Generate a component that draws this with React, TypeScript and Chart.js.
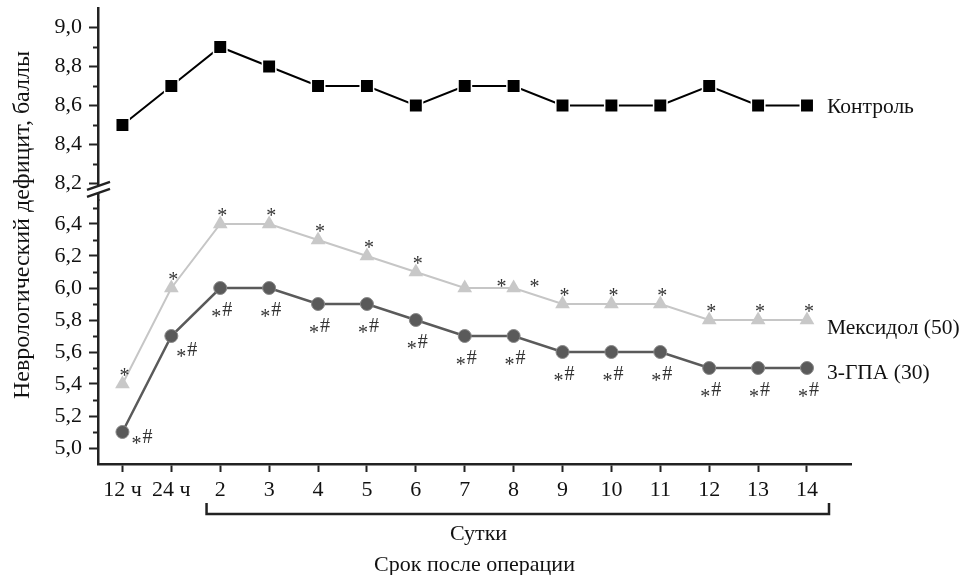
import React, { useEffect, useRef } from 'react';
import { Chart, registerables } from 'chart.js';

Chart.register(...registerables);

// ---------- data ----------
const timeLabels = ['12 ч', '24 ч', '2', '3', '4', '5', '6', '7', '8', '9', '10', '11', '12', '13', '14'];
const controlValues = [8.5, 8.7, 8.9, 8.8, 8.7, 8.7, 8.6, 8.7, 8.7, 8.6, 8.6, 8.6, 8.7, 8.6, 8.6];
const mexidolValues = [5.4, 6.0, 6.4, 6.4, 6.3, 6.2, 6.1, 6.0, 6.0, 5.9, 5.9, 5.9, 5.8, 5.8, 5.8];
const gpaValues = [5.1, 5.7, 6.0, 6.0, 5.9, 5.9, 5.8, 5.7, 5.7, 5.6, 5.6, 5.6, 5.5, 5.5, 5.5];
const mexidolMarks = ['*', '*', '*', '*', '*', '*', '*', '', '*|*', '*', '*', '*', '*', '*', '*'];
const gpaMarks = ['*#', '*#', '*#', '*#', '*#', '*#', '*#', '*#', '*#', '*#', '*#', '*#', '*#', '*#', '*#'];
const upperTicks = [8.2, 8.3, 8.4, 8.5, 8.6, 8.7, 8.8, 8.9, 9.0];
const lowerTicks = [5.0, 5.1, 5.2, 5.3, 5.4, 5.5, 5.6, 5.7, 5.8, 5.9, 6.0, 6.1, 6.2, 6.3, 6.4, 6.5];
const seriesNames = ['Контроль', 'Мексидол (50)', '3-ГПА (30)'];
const yTitle = 'Неврологический дефицит, баллы';
const xTitle = 'Срок после операции';
const daysLabel = 'Сутки';

// ---------- styling ----------
const FONT = '"Liberation Serif", "Times New Roman", serif';
const AXIS = '#222';
const isMajor = (v: number) => Math.round(v * 10) % 2 === 0;
const fmt = (v: number) => v.toFixed(1).replace('.', ',');

const overlay = {
  id: 'overlay',
  afterDraw(chart: any) {
    const ctx: CanvasRenderingContext2D = chart.ctx;
    const ca = chart.chartArea;
    const xs = chart.scales.x;
    const yT = chart.scales.yTop;
    const yB = chart.scales.yBottom;
    ctx.save();

    // minor y ticks
    ctx.strokeStyle = AXIS;
    ctx.lineWidth = 2;
    const minor = (s: any, ticks: number[]) => {
      ticks.forEach((v) => {
        if (!isMajor(v)) {
          const py = Math.round(s.getPixelForValue(v)) + 0.5;
          ctx.beginPath();
          ctx.moveTo(ca.left - 5, py);
          ctx.lineTo(ca.left, py);
          ctx.stroke();
        }
      });
    };
    minor(yT, upperTicks);
    minor(yB, lowerTicks);

    // axis break
    const ax = ca.left;
    const by = yT.getPixelForValue(upperTicks[0]) + 6;
    ctx.fillStyle = '#fff';
    ctx.beginPath();
    ctx.moveTo(ax - 11, by + 0.5);
    ctx.lineTo(ax + 12, by - 7.5);
    ctx.lineTo(ax + 12, by - 0.5);
    ctx.lineTo(ax - 11, by + 7.5);
    ctx.closePath();
    ctx.fill();
    ctx.lineWidth = 2.5;
    ctx.strokeStyle = AXIS;
    ctx.beginPath();
    ctx.moveTo(ax - 11, by + 0.5);
    ctx.lineTo(ax + 12, by - 7.5);
    ctx.moveTo(ax - 11, by + 7.5);
    ctx.lineTo(ax + 12, by - 0.5);
    ctx.stroke();

    // annotations
    ctx.fillStyle = '#333';
    ctx.textAlign = 'center';
    ctx.textBaseline = 'alphabetic';
    const fs = 20;
    ctx.font = `${fs}px ${FONT}`;
    const star = (cx: number, cy: number) => ctx.fillText('*', cx, cy + 0.5 * fs);
    const hash = (cx: number, cy: number) => ctx.fillText('#', cx, cy + 0.34 * fs);

    const mexMeta = chart.getDatasetMeta(1);
    mexidolMarks.forEach((m, i) => {
      const p = mexMeta.data[i];
      if (!p || !m) return;
      if (m === '*|*') {
        star(p.x - 12, p.y - 5);
        star(p.x + 21, p.y - 5);
      } else {
        star(p.x + 2, p.y - 12);
      }
    });
    const gpaMeta = chart.getDatasetMeta(2);
    gpaMarks.forEach((m, i) => {
      const p = gpaMeta.data[i];
      if (!p || !m) return;
      let dx = -4, dy = 25;
      if (i === 0) { dx = 14; dy = 8; }
      else if (i === 1) { dx = 10; dy = 17; }
      star(p.x + dx, p.y + dy);
      hash(p.x + dx + 11, p.y + dy - 4);
    });

    // series labels at right
    ctx.fillStyle = '#111';
    ctx.textAlign = 'left';
    ctx.textBaseline = 'middle';
    ctx.font = `21.5px ${FONT}`;
    const labelDy = [2, 8, 5];
    [0, 1, 2].forEach((d) => {
      const meta = chart.getDatasetMeta(d);
      const last = meta.data[meta.data.length - 1];
      ctx.fillText(seriesNames[d], last.x + 20, last.y + labelDy[d]);
    });

    // bracket for days
    const bx1 = xs.getPixelForValue(1.72);
    const bx2 = xs.getPixelForValue(14.45);
    const byB = ca.bottom + 50;
    ctx.strokeStyle = AXIS;
    ctx.lineWidth = 2.5;
    ctx.beginPath();
    ctx.moveTo(bx1, byB - 11);
    ctx.lineTo(bx1, byB);
    ctx.lineTo(bx2, byB);
    ctx.lineTo(bx2, byB - 11);
    ctx.stroke();

    // x titles
    ctx.fillStyle = '#111';
    ctx.textAlign = 'center';
    ctx.textBaseline = 'middle';
    ctx.font = `22px ${FONT}`;
    const cx = (ca.left + ca.right) / 2;
    ctx.fillText(daysLabel, cx + 4, ca.bottom + 70);
    ctx.fillText(xTitle, cx, ca.bottom + 101);

    // y title
    ctx.save();
    ctx.translate(23, 225);
    ctx.rotate(-Math.PI / 2);
    ctx.font = `24px ${FONT}`;
    ctx.fillText(yTitle, 0, 0);
    ctx.restore();

    ctx.restore();
  },
};

export default function App() {
  const ref = useRef<HTMLCanvasElement>(null);

  useEffect(() => {
    const toPts = (arr: number[]) => arr.map((v, i) => ({ x: i, y: v }));
    const yAxisCommon = (ticks: number[]) => ({
      type: 'linear' as const,
      position: 'left' as const,
      stack: 'ystack',
      afterBuildTicks: (s: any) => {
        s.ticks = ticks.map((v) => ({ value: v }));
      },
      afterFit: (s: any) => {
        s.width = 98;
        s.paddingTop = 0;
        s.paddingBottom = 0;
      },
      grid: {
        display: true,
        drawOnChartArea: false,
        drawTicks: true,
        tickLength: 9,
        tickWidth: 2,
        tickColor: (c: any) => (c.tick && isMajor(c.tick.value) ? AXIS : 'rgba(0,0,0,0)'),
      },
      border: { display: true, color: AXIS, width: 2.5 },
      ticks: {
        autoSkip: false,
        padding: 7,
        color: '#111',
        font: { family: FONT, size: 22 },
        callback: (v: any) => (isMajor(Number(v)) ? fmt(Number(v)) : ''),
      },
    });

    const chart = new Chart(ref.current!, {
      type: 'line',
      data: {
        datasets: [
          {
            label: seriesNames[0],
            data: toPts(controlValues),
            yAxisID: 'yTop',
            borderColor: '#000',
            backgroundColor: '#000',
            borderWidth: 2,
            pointStyle: 'rect',
            pointRadius: 9.5,
            pointBorderWidth: 1.5,
            pointBorderColor: '#fff',
          },
          {
            label: seriesNames[1],
            data: toPts(mexidolValues),
            yAxisID: 'yBottom',
            borderColor: '#c6c6c6',
            backgroundColor: '#c8c8c8',
            borderWidth: 2,
            pointStyle: 'triangle',
            pointRadius: 8.5,
            pointBorderWidth: 0,
          },
          {
            label: seriesNames[2],
            data: toPts(gpaValues),
            yAxisID: 'yBottom',
            borderColor: '#5a5a5a',
            backgroundColor: '#5a5a5a',
            borderWidth: 2.5,
            pointStyle: 'circle',
            pointRadius: 6.5,
            pointBorderWidth: 1,
            pointBorderColor: '#888',
          },
        ],
      },
      options: {
        animation: false,
        responsive: true,
        maintainAspectRatio: false,
        layout: { autoPadding: false, padding: { left: 0, right: 114, top: 8, bottom: 0 } },
        plugins: { legend: { display: false }, tooltip: { enabled: false } },
        scales: {
          x: {
            type: 'linear',
            position: 'bottom',
            min: -0.5,
            max: 14.9,
            afterBuildTicks: (s: any) => {
              s.ticks = timeLabels.map((_, i) => ({ value: i }));
            },
            afterFit: (s: any) => {
              s.height = 111;
              s.paddingLeft = 0;
              s.paddingRight = 0;
            },
            grid: {
              display: true,
              drawOnChartArea: false,
              drawTicks: true,
              tickLength: 8,
              tickWidth: 2,
              tickColor: AXIS,
            },
            border: { display: true, color: AXIS, width: 2.5 },
            ticks: {
              autoSkip: false,
              maxRotation: 0,
              padding: 5,
              color: '#111',
              font: { family: FONT, size: 22 },
              callback: (v: any) => timeLabels[Number(v)] ?? '',
            },
          },
          yBottom: {
            ...yAxisCommon(lowerTicks),
            min: 4.9,
            max: 6.55,
            stackWeight: 264,
          },
          yTop: {
            ...yAxisCommon(upperTicks),
            min: 8.115,
            max: 9.1,
            stackWeight: 192,
          },
        },
      } as any,
      plugins: [overlay],
    });
    return () => chart.destroy();
  }, []);

  return (
    <div style={{ position: 'fixed', left: 0, top: 0, width: 965, height: 575, background: '#fff' }}>
      <canvas ref={ref} />
    </div>
  );
}
